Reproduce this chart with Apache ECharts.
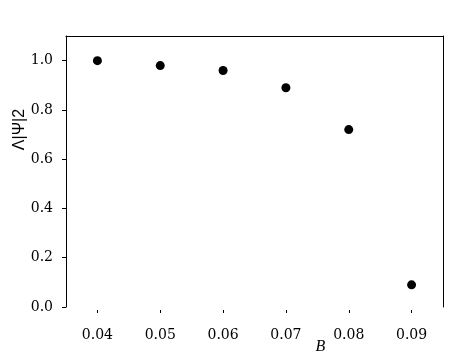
<!DOCTYPE html>
<html>
<head>
<meta charset="utf-8">
<script src="https://cdn.jsdelivr.net/npm/echarts@6/dist/echarts.min.js"></script>
<style>
  html, body { margin: 0; padding: 0; background: #fff; }
  #chart { width: 459px; height: 354px; }
</style>
</head>
<body>
<div id="chart"></div>
<script>
const categories = ['0.04', '0.05', '0.06', '0.07', '0.08', '0.09'];
const values = [1.0, 0.98, 0.96, 0.89, 0.72, 0.09];

const chart = echarts.init(document.getElementById('chart'));

const serif = 'DejaVu Serif';

chart.setOption({
    animation: false,
    backgroundColor: '#fff',
    grid: {
        left: 66,
        right: 16,
        top: 36,
        bottom: 47,
        outerBoundsMode: 'none',
        containLabel: false
    },
    xAxis: [
        {
            type: 'category',
            data: categories,
            boundaryGap: true,
            offset: 3,
            name: 'B',
            nameLocation: 'middle',
            nameMoveOverlap: false,
            nameGap: 29,
            nameTextStyle: {
                fontFamily: 'Liberation Serif',
                fontStyle: 'italic',
                fontSize: 16,
                color: '#000',
                padding: [0, 0, 0, 132]
            },
            axisLine: { show: false, onZero: false },
            axisTick: {
                show: true,
                alignWithLabel: true,
                length: 3,
                lineStyle: { color: '#000' }
            },
            axisLabel: {
                color: '#000',
                fontFamily: serif,
                fontSize: 14,
                margin: 18
            },
            splitLine: { show: false }
        },
        {
            type: 'value',
            position: 'top',
            min: 0,
            max: 1,
            axisLine: { show: true, onZero: false, lineStyle: { color: '#000', width: 1 } },
            axisTick: { show: false },
            axisLabel: { show: false },
            splitLine: { show: false }
        }
    ],
    yAxis: [
        {
            type: 'value',
            min: 0,
            max: 1.1,
            interval: 0.2,
            name: 'Λ|Ψ|2',
            nameLocation: 'middle',
            nameMoveOverlap: false,
            nameGap: 38,
            nameTextStyle: {
                fontFamily: 'Liberation Sans',
                fontSize: 16,
                color: '#000',
                padding: [0, 0, 0, 84]
            },
            axisLine: { show: true, onZero: false, lineStyle: { color: '#000', width: 1 } },
            axisTick: { show: true, length: 4, lineStyle: { color: '#000' } },
            axisLabel: {
                color: '#000',
                fontFamily: serif,
                fontSize: 14,
                margin: 13,
                formatter: v => v.toFixed(1),
                showMaxLabel: false
            },
            splitLine: { show: false }
        },
        {
            type: 'value',
            position: 'right',
            min: 0,
            max: 1.1,
            axisLine: { show: true, onZero: false, lineStyle: { color: '#000', width: 1 } },
            axisTick: { show: false },
            axisLabel: { show: false },
            splitLine: { show: false }
        }
    ],
    series: [
        {
            type: 'scatter',
            data: values,
            symbol: 'circle',
            symbolSize: 9,
            itemStyle: { color: '#000', opacity: 1 }
        }
    ]
});
</script>
</body>
</html>
